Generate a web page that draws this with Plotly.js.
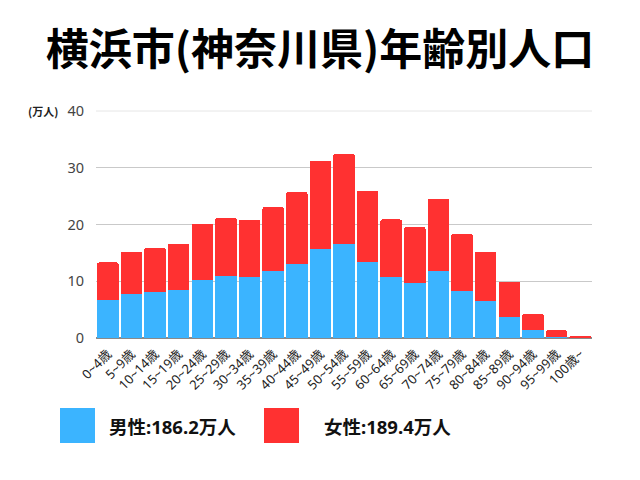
<!DOCTYPE html>
<html>
<head>
<meta charset="utf-8">
<script src="https://cdn.plot.ly/plotly-3.0.1.min.js"></script>
<style>html,body{margin:0;padding:0;background:#fff;}#chart{width:640px;height:480px;}</style>
</head>
<body>
<div id="chart"></div>
<script>
var categories = ['0~4歳','5~9歳','10~14歳','15~19歳','20~24歳','25~29歳','30~34歳','35~39歳','40~44歳','45~49歳','50~54歳','55~59歳','60~64歳','65~69歳','70~74歳','75~79歳','80~84歳','85~89歳','90~94歳','95~99歳','100歳~'];
var male =   [6.75, 7.81, 8.17, 8.52, 10.28, 10.87, 10.70, 11.80, 13.10, 15.75, 16.63, 13.46, 10.76, 9.75, 11.82, 8.22, 6.53, 3.76, 1.35, 0.23, 0.05];
var female = [6.58, 7.36, 7.76, 8.06, 9.88, 10.33, 10.10, 11.30, 12.60, 15.45, 15.82, 12.52, 10.14, 9.83, 12.75, 10.12, 8.64, 6.12, 2.94, 1.12, 0.30];
var seriesNames = ['男性:186.2万人', '女性:189.4万人'];
var yTicks = [0, 10, 20, 30, 40];
var titleText = '横浜市(神奈川県)年齢別人口';
var unitLabel = '(万人)';

var FONT = 'Noto Sans CJK JP, Noto Sans, sans-serif';
var FONT2 = 'Noto Sans, Noto Sans CJK JP, sans-serif';
var BLUE = '#3bb4ff', RED = '#ff3131';

// plot area in pixels
var L = 96, R = 592, T = 111, B = 338;
function px(x){ return (x - L) / (R - L); }
function py(y){ return (B - y) / (B - T); }

var traces = [
  {type:'bar', x:categories, y:male, name:seriesNames[0], marker:{color:BLUE}, hoverinfo:'none'},
  {type:'bar', x:categories, y:female, name:seriesNames[1], marker:{color:RED}, hoverinfo:'none'}
];

var layout = {
  width:640, height:480,
  margin:{l:L, r:640-R, t:T, b:480-B, pad:0},
  paper_bgcolor:'#fff', plot_bgcolor:'#fff',
  barmode:'stack', bargap:0.09, barcornerradius:2,
  showlegend:false,
  font:{family:FONT, color:'#333'},
  title:{text:titleText, x:0.5, xref:'container', xanchor:'center', y:1 - 50/480, yref:'container', yanchor:'middle',
         font:{family:FONT, size:43, weight:'bold', color:'#000'}},
  xaxis:{type:'category', tickangle:-45, showgrid:false, showline:false, ticks:'',
         ticklabelstandoff:5, tickfont:{family:FONT2, size:13, color:'#222'}, automargin:false},
  yaxis:{range:[0,40], tickvals:yTicks, showgrid:true, gridcolor:'#c9c9c9', gridwidth:1,
         zeroline:true, zerolinecolor:'#8a8a8a', zerolinewidth:1.5, showline:false, ticks:'',
         ticklabelstandoff:11, tickfont:{family:FONT2, size:14.5, color:'#444'}, automargin:false},
  shapes:[
    {type:'rect', xref:'paper', yref:'paper', x0:px(60), x1:px(95), y0:py(443), y1:py(408), fillcolor:BLUE, line:{width:0}},
    {type:'rect', xref:'paper', yref:'paper', x0:px(264), x1:px(299), y0:py(443), y1:py(408), fillcolor:RED, line:{width:0}},
    {type:'line', xref:'paper', yref:'paper', x0:0, x1:1, y0:1, y1:1, line:{color:'#e6e6e6', width:1}, layer:'below'}
  ],
  annotations:[
    {text:unitLabel, xref:'paper', yref:'paper', x:px(43), y:py(111), xanchor:'center', yanchor:'middle', showarrow:false,
     font:{family:FONT, size:11, weight:'bold', color:'#222'}},
    {text:seriesNames[0], xref:'paper', yref:'paper', x:px(107), y:py(426), xanchor:'left', yanchor:'middle', showarrow:false,
     font:{family:FONT2, size:18.5, weight:'bold', color:'#111'}},
    {text:seriesNames[1], xref:'paper', yref:'paper', x:px(322), y:py(426), xanchor:'left', yanchor:'middle', showarrow:false,
     font:{family:FONT2, size:18.5, weight:'bold', color:'#111'}}
  ]
};

Plotly.newPlot('chart', traces, layout, {staticPlot:true, displayModeBar:false});
</script>
</body>
</html>
